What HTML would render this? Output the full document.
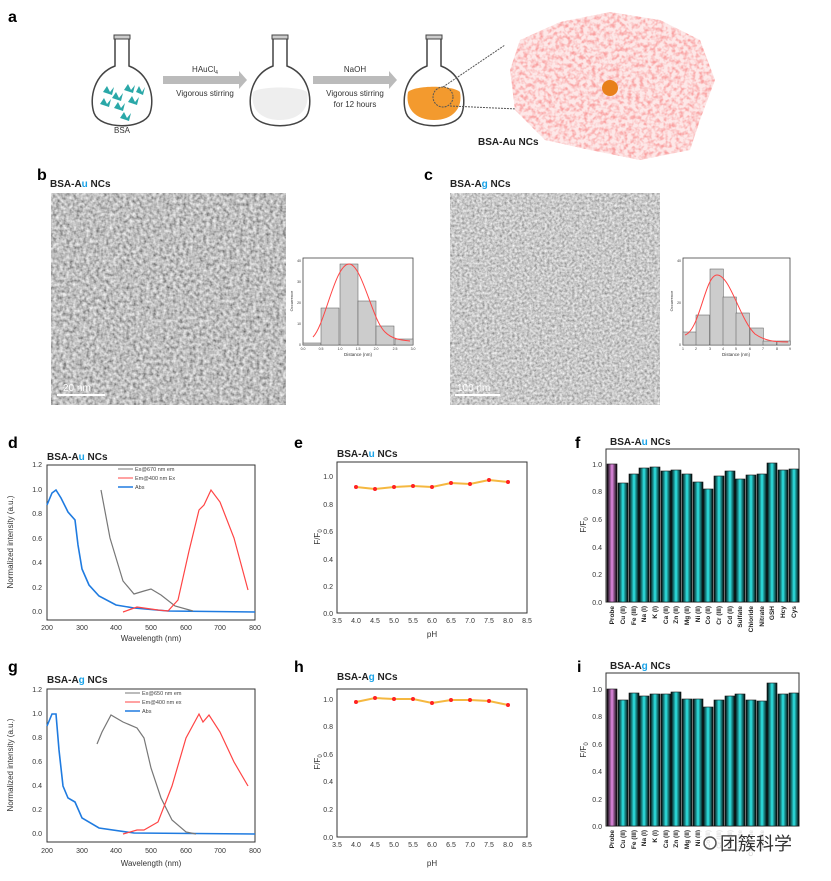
<!DOCTYPE html>
<html><head><meta charset="utf-8"><style>
body{margin:0;background:#fff}
svg text{font-family:"Liberation Sans",Arial,sans-serif}
</style></head><body>
<svg width="831" height="876" viewBox="0 0 831 876" xmlns="http://www.w3.org/2000/svg">
<defs>
<filter id="tem" x="0" y="0" width="100%" height="100%">
<feTurbulence type="fractalNoise" baseFrequency="0.3" numOctaves="2" seed="3"/>
<feColorMatrix type="matrix" values="1.0 0 0 0 0.02  1.0 0 0 0 0.02  1.0 0 0 0 0.02  0 0 0 0 1"/>
</filter>
<filter id="tem2" x="0" y="0" width="100%" height="100%">
<feTurbulence type="fractalNoise" baseFrequency="0.4" numOctaves="2" seed="8"/>
<feColorMatrix type="matrix" values="0.9 0 0 0 0.13  0.9 0 0 0 0.13  0.9 0 0 0 0.13  0 0 0 0 1"/>
</filter>
<filter id="prot" x="0" y="0" width="100%" height="100%">
<feTurbulence type="fractalNoise" baseFrequency="0.25" numOctaves="2" seed="5"/>
<feColorMatrix type="matrix" values="0 0 0 0 0.95  0 0 0 0 0.35  0 0 0 0 0.35  2.5 0 0 0 -1.0"/>
</filter>
<clipPath id="protclip"><path d="M520 40 L560 22 L610 12 L660 20 L700 40 L715 80 L700 120 L690 150 L640 160 L590 150 L545 140 L515 110 L510 70 Z"/></clipPath>
<linearGradient id="bar" x1="0" x2="1" y1="0" y2="0">
<stop offset="0" stop-color="#000"/><stop offset="0.5" stop-color="#2ee8e8"/><stop offset="1" stop-color="#000"/></linearGradient>
<linearGradient id="barp" x1="0" x2="1" y1="0" y2="0">
<stop offset="0" stop-color="#000"/><stop offset="0.5" stop-color="#e58be5"/><stop offset="1" stop-color="#000"/></linearGradient>
<g id="flask"><path d="M-7 -50 L-7 -22 C-28 -14 -33 10 -28 25 C-22 42 22 42 28 25 C33 10 28 -14 7 -22 L7 -50 Z" fill="#fff" stroke="#444" stroke-width="1.5"/><rect x="-8" y="-53" width="16" height="4" fill="#ccc" stroke="#444"/></g>
</defs>

<!-- panel a -->
<text x="8" y="22" font-size="16" font-weight="bold">a</text>
<use href="#flask" x="122" y="88"/>
<g fill="#2aa8a8">
<path d="M103 92 l4 -6 l3 6 l4 -5 l-2 8 z M112 98 l4 -6 l3 6 l4 -5 l-2 8z M124 90 l4 -6 l3 6 l4 -5 l-2 8z M100 104 l4 -6 l3 6 l4 -5 l-2 8z M114 108 l4 -6 l3 6 l4 -5 l-2 8z M128 102 l4 -6 l3 6 l4 -5 l-2 8z M136 92 l3 -6 l3 6 l3 -5 l-2 8z M120 118 l4 -6 l3 6 l4 -5 l-2 8z"/>
</g>
<text x="122" y="133" font-size="8" text-anchor="middle" fill="#333">BSA</text>
<use href="#flask" x="280" y="88"/>
<path d="M253 92 C260 86 300 86 307 92 C310 108 300 120 280 120 C260 120 250 108 253 92Z" fill="#eee"/>
<use href="#flask" x="434" y="88"/>
<path d="M408 92 C415 85 453 85 460 92 C463 108 453 120 434 120 C415 120 405 108 408 92Z" fill="#f39a2e"/>
<circle cx="443" cy="97" r="10" fill="none" stroke="#555" stroke-dasharray="2 1"/>
<line x1="443" y1="87" x2="505" y2="45" stroke="#555" stroke-dasharray="2 1"/>
<line x1="450" y1="106" x2="540" y2="110" stroke="#555" stroke-dasharray="2 1"/>
<path d="M163 76 h76 v-5 l8 9 l-8 9 v-5 h-76z" fill="#bbb"/>
<path d="M313 76 h76 v-5 l8 9 l-8 9 v-5 h-76z" fill="#bbb"/>
<text x="205" y="72" font-size="8" text-anchor="middle" fill="#333">HAuCl<tspan font-size="5" dy="2">4</tspan></text>
<text x="205" y="96" font-size="8" text-anchor="middle" fill="#333">Vigorous stirring</text>
<text x="355" y="72" font-size="8" text-anchor="middle" fill="#333">NaOH</text>
<text x="355" y="96" font-size="8" text-anchor="middle" fill="#333">Vigorous stirring</text>
<text x="355" y="107" font-size="8" text-anchor="middle" fill="#333">for 12 hours</text>
<g clip-path="url(#protclip)"><rect x="505" y="10" width="215" height="155" fill="#fde8e8"/><rect x="505" y="10" width="215" height="155" filter="url(#prot)"/></g>
<circle cx="610" cy="88" r="8" fill="#e8801a"/>
<text x="478" y="145" font-size="10" font-weight="bold" fill="#222">BSA-Au NCs</text>

<!-- panel b -->
<text x="37" y="180" font-size="16" font-weight="bold">b</text>
<text x="50" y="187" font-size="10" font-weight="bold" fill="#222">BSA-A<tspan fill="#1aa3e8">u</tspan> NCs</text>
<rect x="51" y="193" width="235" height="212" filter="url(#tem)"/>
<line x1="57" y1="395" x2="105" y2="395" stroke="#fff" stroke-width="2"/>
<text x="63" y="391" font-size="10" fill="#fff">20 nm</text>
<g font-size="3.5" fill="#333">
<rect x="303" y="258" width="110" height="87" fill="#fff" stroke="#444" stroke-width="0.8"/>
<g fill="#ccc" stroke="#555" stroke-width="0.5">
<rect x="303" y="343" width="18" height="2"/><rect x="321" y="308" width="18" height="37"/><rect x="340" y="264" width="18" height="81"/><rect x="358" y="301" width="18" height="44"/><rect x="376" y="326" width="18" height="19"/><rect x="395" y="339" width="18" height="6"/></g>
<path d="M313 337 C325 325 335 264 349 264 C362 264 372 320 385 332 C392 339 400 340 410 341" fill="none" stroke="#f44" stroke-width="1"/>
<text x="301" y="262" text-anchor="end">40</text><text x="301" y="283" text-anchor="end">30</text><text x="301" y="304" text-anchor="end">20</text><text x="301" y="325" text-anchor="end">10</text><text x="301" y="346" text-anchor="end">0</text>
<text x="303" y="350" text-anchor="middle">0.0</text><text x="321" y="350" text-anchor="middle">0.5</text><text x="340" y="350" text-anchor="middle">1.0</text><text x="358" y="350" text-anchor="middle">1.5</text><text x="376" y="350" text-anchor="middle">2.0</text><text x="395" y="350" text-anchor="middle">2.5</text><text x="413" y="350" text-anchor="middle">3.0</text>
<text x="358" y="356" text-anchor="middle" font-size="4.5">Distance (nm)</text>
<text transform="translate(293 301) rotate(-90)" text-anchor="middle" font-size="4">Occurrence</text>
</g>

<!-- panel c -->
<text x="424" y="180" font-size="16" font-weight="bold">c</text>
<text x="450" y="187" font-size="10" font-weight="bold" fill="#222">BSA-A<tspan fill="#1aa3e8">g</tspan> NCs</text>
<rect x="450" y="193" width="210" height="212" filter="url(#tem2)"/>
<line x1="455" y1="395" x2="500" y2="395" stroke="#fff" stroke-width="2"/>
<text x="457" y="391" font-size="10" fill="#fff">100 nm</text>
<g font-size="3.5" fill="#333">
<rect x="683" y="258" width="107" height="87" fill="#fff" stroke="#444" stroke-width="0.8"/>
<g fill="#ccc" stroke="#555" stroke-width="0.5">
<rect x="683" y="332" width="13.4" height="13"/><rect x="696" y="315" width="13.4" height="30"/><rect x="710" y="269" width="13.4" height="76"/><rect x="723" y="297" width="13.4" height="48"/><rect x="736" y="313" width="13.4" height="32"/><rect x="750" y="328" width="13.4" height="17"/><rect x="763" y="341" width="13.4" height="4"/><rect x="777" y="341" width="13.4" height="4"/></g>
<path d="M685 335 C700 330 705 275 717 275 C730 275 740 320 755 334 C765 341 775 342 788 342" fill="none" stroke="#f44" stroke-width="1"/>
<text x="681" y="262" text-anchor="end">40</text><text x="681" y="304" text-anchor="end">20</text><text x="681" y="346" text-anchor="end">0</text>
<text x="683" y="350" text-anchor="middle">1</text><text x="696" y="350" text-anchor="middle">2</text><text x="710" y="350" text-anchor="middle">3</text><text x="723" y="350" text-anchor="middle">4</text><text x="736" y="350" text-anchor="middle">5</text><text x="750" y="350" text-anchor="middle">6</text><text x="763" y="350" text-anchor="middle">7</text><text x="777" y="350" text-anchor="middle">8</text><text x="790" y="350" text-anchor="middle">9</text>
<text x="736" y="356" text-anchor="middle" font-size="4.5">Distance (nm)</text>
<text transform="translate(673 301) rotate(-90)" text-anchor="middle" font-size="4">Occurrence</text>
</g>

<!-- panel d -->
<text x="8" y="448" font-size="16" font-weight="bold">d</text>
<text x="47" y="460" font-size="10" font-weight="bold" fill="#222">BSA-A<tspan fill="#1aa3e8">u</tspan> NCs</text>
<rect x="47" y="465" width="208" height="155" fill="none" stroke="#333" stroke-width="1"/>
<g font-size="7" fill="#333" text-anchor="end">
<text x="42" y="467">1.2</text><text x="42" y="492">1.0</text><text x="42" y="516">0.8</text><text x="42" y="541">0.6</text><text x="42" y="565">0.4</text><text x="42" y="590">0.2</text><text x="42" y="614">0.0</text></g>
<g font-size="7" fill="#333" text-anchor="middle">
<text x="47" y="630">200</text><text x="82" y="630">300</text><text x="116" y="630">400</text><text x="151" y="630">500</text><text x="186" y="630">600</text><text x="220" y="630">700</text><text x="255" y="630">800</text>
<text x="151" y="641" font-size="8">Wavelength (nm)</text>
<text transform="translate(13 542) rotate(-90)" font-size="8">Normalized intensity (a.u.)</text></g>
<polyline fill="none" stroke="#1f7be0" stroke-width="1.6" points="47,505 52,493 56,490 61,498 68,512 75,520 78,545 82,569 89,585 99,596 116,605 134,608 168,611 255,612"/>
<polyline fill="none" stroke="#777" stroke-width="1.2" points="101,490 110,538 123,581 134,594 144,591 151,589 161,595 175,606 193,611"/>
<polyline fill="none" stroke="#f44" stroke-width="1.2" points="123,612 137,607 158,610 168,611 178,600 189,551 199,510 204,505 211,490 220,502 234,538 248,590"/>
<g font-size="5.5" fill="#444"><line x1="118" y1="469" x2="133" y2="469" stroke="#777"/><text x="135" y="471">Ex@670 nm em</text>
<line x1="118" y1="478" x2="133" y2="478" stroke="#f44"/><text x="135" y="480">Em@400 nm Ex</text>
<line x1="118" y1="487" x2="133" y2="487" stroke="#1f7be0" stroke-width="1.5"/><text x="135" y="489">Abs</text></g>

<!-- panel e -->
<text x="294" y="448" font-size="16" font-weight="bold">e</text>
<text x="337" y="457" font-size="10" font-weight="bold" fill="#222">BSA-A<tspan fill="#1aa3e8">u</tspan> NCs</text>
<rect x="337" y="462" width="190" height="151" fill="none" stroke="#333"/>
<g font-size="7" fill="#333" text-anchor="end">
<text x="333" y="479">1.0</text><text x="333" y="507">0.8</text><text x="333" y="534">0.6</text><text x="333" y="562">0.4</text><text x="333" y="589">0.2</text><text x="333" y="616">0.0</text></g>
<g font-size="7" fill="#333" text-anchor="middle">
<text x="337" y="623">3.5</text><text x="356" y="623">4.0</text><text x="375" y="623">4.5</text><text x="394" y="623">5.0</text><text x="413" y="623">5.5</text><text x="432" y="623">6.0</text><text x="451" y="623">6.5</text><text x="470" y="623">7.0</text><text x="489" y="623">7.5</text><text x="508" y="623">8.0</text><text x="527" y="623">8.5</text>
<text x="432" y="637" font-size="8">pH</text>
<text transform="translate(320 537) rotate(-90)" font-size="8">F/F<tspan font-size="6" dy="2">0</tspan></text></g>
<polyline fill="none" stroke="#f5b840" stroke-width="2" points="356,487 375,489 394,487 413,486 432,487 451,483 470,484 489,480 508,482"/>
<g fill="#f22"><circle cx="356" cy="487" r="2"/><circle cx="375" cy="489" r="2"/><circle cx="394" cy="487" r="2"/><circle cx="413" cy="486" r="2"/><circle cx="432" cy="487" r="2"/><circle cx="451" cy="483" r="2"/><circle cx="470" cy="484" r="2"/><circle cx="489" cy="480" r="2"/><circle cx="508" cy="482" r="2"/></g>

<!-- panel f -->
<text x="575" y="448" font-size="16" font-weight="bold">f</text>
<text x="610" y="445" font-size="10" font-weight="bold" fill="#222">BSA-A<tspan fill="#1aa3e8">u</tspan> NCs</text>
<rect x="606" y="449" width="193" height="153" fill="none" stroke="#333"/>
<g font-size="7" fill="#333" text-anchor="end">
<text x="602" y="467">1.0</text><text x="602" y="494">0.8</text><text x="602" y="522">0.6</text><text x="602" y="550">0.4</text><text x="602" y="577">0.2</text><text x="602" y="605">0.0</text>
<text transform="translate(586 525) rotate(-90)" text-anchor="middle" font-size="8">F/F<tspan font-size="6" dy="2">0</tspan></text></g>
<g stroke="#111" stroke-width="0.6">
<rect x="607" y="464" width="10" height="138" fill="url(#barp)"/>
<rect x="618" y="483" width="10" height="119" fill="url(#bar)"/>
<rect x="629" y="474" width="10" height="128" fill="url(#bar)"/>
<rect x="639" y="468" width="10" height="134" fill="url(#bar)"/>
<rect x="650" y="467" width="10" height="135" fill="url(#bar)"/>
<rect x="661" y="471" width="10" height="131" fill="url(#bar)"/>
<rect x="671" y="470" width="10" height="132" fill="url(#bar)"/>
<rect x="682" y="474" width="10" height="128" fill="url(#bar)"/>
<rect x="693" y="482" width="10" height="120" fill="url(#bar)"/>
<rect x="703" y="489" width="10" height="113" fill="url(#bar)"/>
<rect x="714" y="476" width="10" height="126" fill="url(#bar)"/>
<rect x="725" y="471" width="10" height="131" fill="url(#bar)"/>
<rect x="735" y="479" width="10" height="123" fill="url(#bar)"/>
<rect x="746" y="475" width="10" height="127" fill="url(#bar)"/>
<rect x="757" y="474" width="10" height="128" fill="url(#bar)"/>
<rect x="767" y="463" width="10" height="139" fill="url(#bar)"/>
<rect x="778" y="470" width="10" height="132" fill="url(#bar)"/>
<rect x="789" y="469" width="10" height="133" fill="url(#bar)"/>
</g>
<g font-size="6.5" font-weight="bold" fill="#222" text-anchor="end">
<text transform="translate(614 606) rotate(-90)">Probe</text><text transform="translate(625 606) rotate(-90)">Cu (II)</text><text transform="translate(636 606) rotate(-90)">Fe (III)</text><text transform="translate(646 606) rotate(-90)">Na (I)</text><text transform="translate(657 606) rotate(-90)">K (I)</text><text transform="translate(668 606) rotate(-90)">Ca (II)</text><text transform="translate(678 606) rotate(-90)">Zn (II)</text><text transform="translate(689 606) rotate(-90)">Mg (II)</text><text transform="translate(700 606) rotate(-90)">Ni (II)</text><text transform="translate(710 606) rotate(-90)">Co (II)</text><text transform="translate(721 606) rotate(-90)">Cr (III)</text><text transform="translate(732 606) rotate(-90)">Cd (II)</text><text transform="translate(742 606) rotate(-90)">Sulfate</text><text transform="translate(753 606) rotate(-90)">Chloride</text><text transform="translate(764 606) rotate(-90)">Nitrate</text><text transform="translate(774 606) rotate(-90)">GSH</text><text transform="translate(785 606) rotate(-90)">Hcy</text><text transform="translate(796 606) rotate(-90)">Cys</text></g>

<!-- panel g -->
<text x="8" y="672" font-size="16" font-weight="bold">g</text>
<text x="47" y="683" font-size="10" font-weight="bold" fill="#222">BSA-A<tspan fill="#1aa3e8">g</tspan> NCs</text>
<rect x="47" y="689" width="208" height="153" fill="none" stroke="#333"/>
<g font-size="7" fill="#333" text-anchor="end">
<text x="42" y="692">1.2</text><text x="42" y="716">1.0</text><text x="42" y="740">0.8</text><text x="42" y="764">0.6</text><text x="42" y="788">0.4</text><text x="42" y="812">0.2</text><text x="42" y="836">0.0</text></g>
<g font-size="7" fill="#333" text-anchor="middle">
<text x="47" y="853">200</text><text x="82" y="853">300</text><text x="116" y="853">400</text><text x="151" y="853">500</text><text x="186" y="853">600</text><text x="220" y="853">700</text><text x="255" y="853">800</text>
<text x="151" y="866" font-size="8">Wavelength (nm)</text>
<text transform="translate(13 765) rotate(-90)" font-size="8">Normalized intensity (a.u.)</text></g>
<polyline fill="none" stroke="#1f7be0" stroke-width="1.6" points="47,726 52,714 56,714 59,750 63,786 68,798 75,802 82,818 99,828 134,833 255,834"/>
<polyline fill="none" stroke="#777" stroke-width="1.2" points="97,744 102,732 111,715 123,722 137,728 144,738 151,768 161,798 172,820 186,832 196,834"/>
<polyline fill="none" stroke="#f44" stroke-width="1.2" points="123,834 137,830 144,830 158,822 172,786 186,738 199,714 203,722 209,715 220,732 234,762 248,786"/>
<g font-size="5.5" fill="#444"><line x1="125" y1="693" x2="140" y2="693" stroke="#777"/><text x="142" y="695">Ex@650 nm em</text>
<line x1="125" y1="702" x2="140" y2="702" stroke="#f44"/><text x="142" y="704">Em@400 nm ex</text>
<line x1="125" y1="711" x2="140" y2="711" stroke="#1f7be0" stroke-width="1.5"/><text x="142" y="713">Abs</text></g>

<!-- panel h -->
<text x="294" y="672" font-size="16" font-weight="bold">h</text>
<text x="337" y="680" font-size="10" font-weight="bold" fill="#222">BSA-A<tspan fill="#1aa3e8">g</tspan> NCs</text>
<rect x="337" y="689" width="190" height="148" fill="none" stroke="#333"/>
<g font-size="7" fill="#333" text-anchor="end">
<text x="333" y="702">1.0</text><text x="333" y="729">0.8</text><text x="333" y="757">0.6</text><text x="333" y="784">0.4</text><text x="333" y="812">0.2</text><text x="333" y="840">0.0</text></g>
<g font-size="7" fill="#333" text-anchor="middle">
<text x="337" y="847">3.5</text><text x="356" y="847">4.0</text><text x="375" y="847">4.5</text><text x="394" y="847">5.0</text><text x="413" y="847">5.5</text><text x="432" y="847">6.0</text><text x="451" y="847">6.5</text><text x="470" y="847">7.0</text><text x="489" y="847">7.5</text><text x="508" y="847">8.0</text><text x="527" y="847">8.5</text>
<text x="432" y="866" font-size="8">pH</text>
<text transform="translate(320 762) rotate(-90)" font-size="8">F/F<tspan font-size="6" dy="2">0</tspan></text></g>
<polyline fill="none" stroke="#f5b840" stroke-width="2" points="356,702 375,698 394,699 413,699 432,703 451,700 470,700 489,701 508,705"/>
<g fill="#f22"><circle cx="356" cy="702" r="2"/><circle cx="375" cy="698" r="2"/><circle cx="394" cy="699" r="2"/><circle cx="413" cy="699" r="2"/><circle cx="432" cy="703" r="2"/><circle cx="451" cy="700" r="2"/><circle cx="470" cy="700" r="2"/><circle cx="489" cy="701" r="2"/><circle cx="508" cy="705" r="2"/></g>

<!-- panel i -->
<text x="577" y="672" font-size="16" font-weight="bold">i</text>
<text x="610" y="669" font-size="10" font-weight="bold" fill="#222">BSA-A<tspan fill="#1aa3e8">g</tspan> NCs</text>
<rect x="606" y="673" width="193" height="153" fill="none" stroke="#333"/>
<g font-size="7" fill="#333" text-anchor="end">
<text x="602" y="692">1.0</text><text x="602" y="719">0.8</text><text x="602" y="747">0.6</text><text x="602" y="774">0.4</text><text x="602" y="802">0.2</text><text x="602" y="829">0.0</text>
<text transform="translate(586 750) rotate(-90)" text-anchor="middle" font-size="8">F/F<tspan font-size="6" dy="2">0</tspan></text></g>
<g stroke="#111" stroke-width="0.6">
<rect x="607" y="689" width="10" height="137" fill="url(#barp)"/>
<rect x="618" y="700" width="10" height="126" fill="url(#bar)"/>
<rect x="629" y="693" width="10" height="133" fill="url(#bar)"/>
<rect x="639" y="696" width="10" height="130" fill="url(#bar)"/>
<rect x="650" y="694" width="10" height="132" fill="url(#bar)"/>
<rect x="661" y="694" width="10" height="132" fill="url(#bar)"/>
<rect x="671" y="692" width="10" height="134" fill="url(#bar)"/>
<rect x="682" y="699" width="10" height="127" fill="url(#bar)"/>
<rect x="693" y="699" width="10" height="127" fill="url(#bar)"/>
<rect x="703" y="707" width="10" height="119" fill="url(#bar)"/>
<rect x="714" y="700" width="10" height="126" fill="url(#bar)"/>
<rect x="725" y="696" width="10" height="130" fill="url(#bar)"/>
<rect x="735" y="694" width="10" height="132" fill="url(#bar)"/>
<rect x="746" y="700" width="10" height="126" fill="url(#bar)"/>
<rect x="757" y="701" width="10" height="125" fill="url(#bar)"/>
<rect x="767" y="683" width="10" height="143" fill="url(#bar)"/>
<rect x="778" y="694" width="10" height="132" fill="url(#bar)"/>
<rect x="789" y="693" width="10" height="133" fill="url(#bar)"/>
</g>
<g font-size="6.5" font-weight="bold" fill="#222" text-anchor="end">
<text transform="translate(614 830) rotate(-90)">Probe</text><text transform="translate(625 830) rotate(-90)">Cu (II)</text><text transform="translate(636 830) rotate(-90)">Fe (III)</text><text transform="translate(646 830) rotate(-90)">Na (I)</text><text transform="translate(657 830) rotate(-90)">K (I)</text><text transform="translate(668 830) rotate(-90)">Ca (II)</text><text transform="translate(678 830) rotate(-90)">Zn (II)</text><text transform="translate(689 830) rotate(-90)">Mg (II)</text><text transform="translate(700 830) rotate(-90)">Ni (II)</text><text transform="translate(710 830) rotate(-90)">Co (II)</text><text transform="translate(721 830) rotate(-90)">Cr (III)</text><text transform="translate(732 830) rotate(-90)">Cd (II)</text><text transform="translate(742 830) rotate(-90)">Sulfate</text><text transform="translate(753 830) rotate(-90)">Chloride</text><text transform="translate(764 830) rotate(-90)">Nitrate</text></g>
<rect x="700" y="830" width="130" height="28" fill="#fff" opacity="0.85"/>
<circle cx="710" cy="843" r="6" fill="none" stroke="#555" stroke-width="1.5"/>
<text x="720" y="850" font-size="18" fill="#333" font-family="'Liberation Sans','Noto Sans CJK SC',sans-serif">团簇科学</text>
</svg>
</body></html>
